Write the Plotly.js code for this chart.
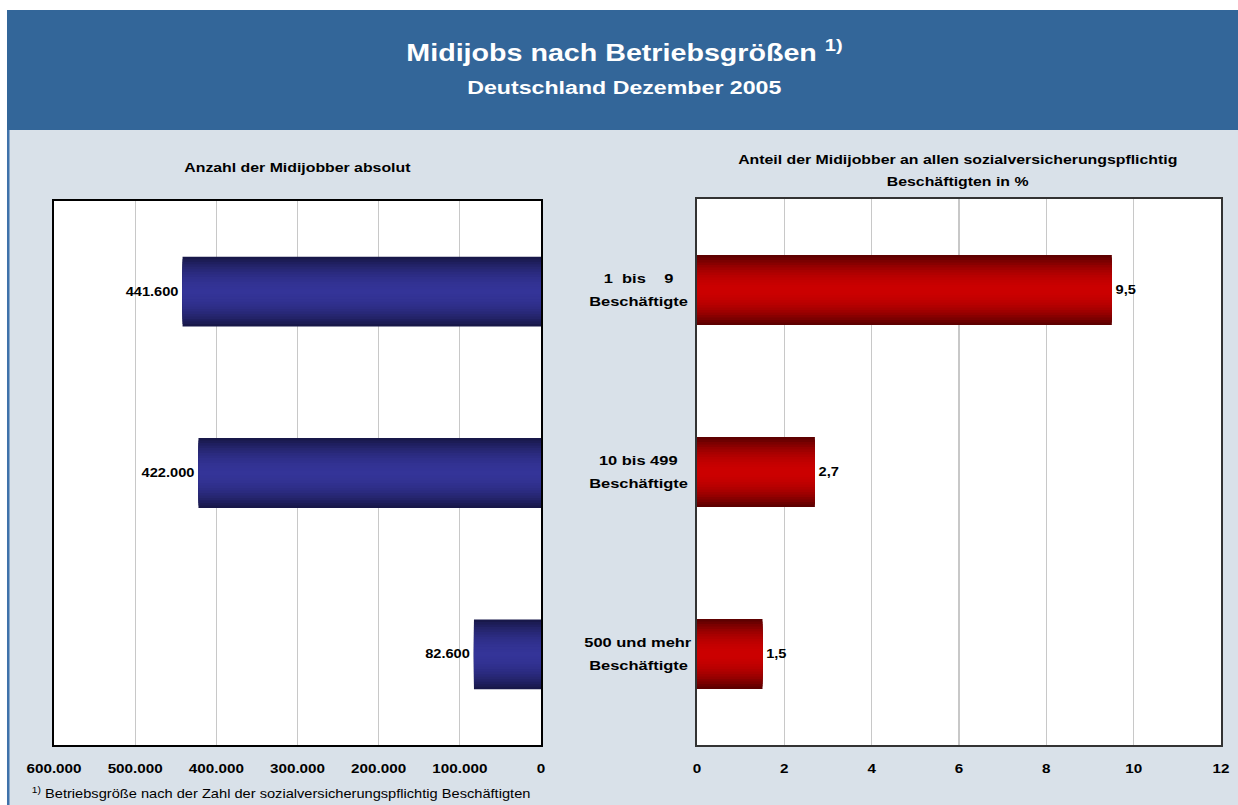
<!DOCTYPE html>
<html>
<head>
<meta charset="utf-8">
<script src="https://cdn.plot.ly/plotly-3.0.1.min.js"></script>
<style>
html,body{margin:0;padding:0;background:#fff;overflow:hidden;}
#chart{width:1015px;height:805px;transform-origin:0 0;}
</style>
</head>
<body>
<div id="chart"></div>
<script>
// ---- data ----
const categories = ["1  bis    9 Beschäftigte", "10 bis 499 Beschäftigte", "500 und mehr Beschäftigte"];
const categoryLine1 = ["1\u00a0\u00a0bis\u00a0\u00a0\u00a0\u00a09", "10 bis 499", "500 und mehr"];
const categoryLine2 = ["Beschäftigte", "Beschäftigte", "Beschäftigte"];
const absoluteValues = [441600, 422000, 82600];
const shareValues = [9.5, 2.7, 1.5];
const leftTickVals = [0, 100000, 200000, 300000, 400000, 500000, 600000];
const rightTickVals = [0, 2, 4, 6, 8, 10, 12];

// The reference picture is horizontally stretched; render narrower and stretch in X.
const W = 1238, H = 805, WP = 1015;
const STRETCH = W / WP;
document.getElementById('chart').style.transform = 'scaleX(' + STRETCH + ')';

const px = x => x / W;
const py = y => 1 - y / H;
const FONT = "Liberation Sans, Arial, sans-serif";

function mix(c1, c2, t) {
  const r = Math.round(c1[0] + (c2[0] - c1[0]) * t);
  const g = Math.round(c1[1] + (c2[1] - c1[1]) * t);
  const b = Math.round(c1[2] + (c2[2] - c1[2]) * t);
  return `rgb(${r},${g},${b})`;
}

const BAR_W = 0.385;
const LAYERS = 14;
const traces = [];
function addGradientBars(values, xa, ya, center, edge, tmpl) {
  for (let k = 0; k < LAYERS; k++) {
    const d = 1 - k / LAYERS;
    const first = k === 0;
    const t = {
      type: 'bar', orientation: 'h',
      x: values, y: categories,
      xaxis: xa, yaxis: ya,
      width: BAR_W * d,
      marker: {color: mix(center, edge, Math.pow(d, 2.0)), line: {width: 0}},
      textposition: first ? 'outside' : 'none',
      cliponaxis: false,
      hoverinfo: 'skip',
      showlegend: false
    };
    if (first) {
      t.texttemplate = tmpl;
      t.textfont = {family: FONT, size: 12, color: '#000', weight: 'bold'};
    }
    traces.push(t);
  }
}
addGradientBars(absoluteValues, 'x', 'y', [52, 52, 152], [24, 24, 74], '<b>%{x:,}</b>');
addGradientBars(shareValues, 'x2', 'y2', [204, 0, 0], [94, 0, 0], '<b>%{x:.1f}</b>');

const axisCommon = {
  showline: true, mirror: true, linewidth: 2,
  showgrid: true, gridcolor: '#c8c8c8', gridwidth: 1,
  zeroline: false, ticks: '', ticklabelstandoff: 11,
  tickfont: {family: FONT, size: 12.5, color: '#000', weight: 'bold'},
  fixedrange: true
};
const yCommon = {
  autorange: 'reversed', showticklabels: false, showgrid: false, zeroline: false,
  showline: true, mirror: true, linewidth: 2, ticks: '', fixedrange: true
};

const annotations = [
  {text: '<b>Midijobs nach Betriebsgrößen <sup>1)</sup></b>', x: px(624), y: py(51), xref: 'paper', yref: 'paper',
   xanchor: 'center', yanchor: 'middle', showarrow: false, font: {family: FONT, size: 23.5, color: '#fff'}},
  {text: '<b>Deutschland Dezember 2005</b>', x: px(625), y: py(88), xref: 'paper', yref: 'paper',
   xanchor: 'center', yanchor: 'middle', showarrow: false, font: {family: FONT, size: 19, color: '#fff'}},
  {text: '<b>Anzahl der Midijobber absolut</b>', x: px(297), y: py(167), xref: 'paper', yref: 'paper',
   xanchor: 'center', yanchor: 'middle', showarrow: false, font: {family: FONT, size: 13, color: '#000'}},
  {text: '<b>Anteil der Midijobber an allen sozialversicherungspflichtig</b>', x: px(958), y: py(160), xref: 'paper', yref: 'paper',
   xanchor: 'center', yanchor: 'middle', showarrow: false, font: {family: FONT, size: 13, color: '#000'}},
  {text: '<b>Beschäftigten in %</b>', x: px(958), y: py(181), xref: 'paper', yref: 'paper',
   xanchor: 'center', yanchor: 'middle', showarrow: false, font: {family: FONT, size: 13, color: '#000'}},
  {text: '<sup>1)</sup> Betriebsgröße nach der Zahl der sozialversicherungspflichtig Beschäftigten', x: px(29), y: py(793), xref: 'paper', yref: 'paper',
   xanchor: 'left', yanchor: 'middle', showarrow: false, font: {family: FONT, size: 12, color: '#000'}}
];
categories.forEach((c, i) => {
  annotations.push({text: '<b>' + categoryLine1[i] + '</b>', x: px(639), y: c, xref: 'paper', yref: 'y2',
    xanchor: 'center', yanchor: 'middle', yshift: 11.5, showarrow: false,
    font: {family: FONT, size: 13.5, color: '#000'}});
  annotations.push({text: '<b>' + categoryLine2[i] + '</b>', x: px(639), y: c, xref: 'paper', yref: 'y2',
    xanchor: 'center', yanchor: 'middle', yshift: -11.5, showarrow: false,
    font: {family: FONT, size: 13.5, color: '#000'}});
});

const layout = {
  width: WP, height: H,
  margin: {l: 0, r: 0, t: 0, b: 0, pad: 0},
  paper_bgcolor: '#d9e1e9', plot_bgcolor: '#ffffff',
  separators: ',.',
  barmode: 'overlay',
  showlegend: false,
  font: {family: FONT},
  xaxis: Object.assign({}, axisCommon, {domain: [px(54), px(541)], range: [600000, 0], tickvals: leftTickVals, tickformat: ',', linecolor: '#000', anchor: 'y'}),
  yaxis: Object.assign({}, yCommon, {domain: [py(745), py(201)], linecolor: '#000', anchor: 'x'}),
  xaxis2: Object.assign({}, axisCommon, {domain: [px(697), px(1221)], range: [0, 12], tickvals: rightTickVals, linecolor: '#333', anchor: 'y2'}),
  yaxis2: Object.assign({}, yCommon, {domain: [py(745), py(199)], linecolor: '#333', anchor: 'x2'}),
  shapes: [
    {type: 'rect', xref: 'paper', yref: 'paper', x0: 0, x1: px(7), y0: 0, y1: 1, fillcolor: '#ffffff', line: {width: 0}, layer: 'below'},
    {type: 'rect', xref: 'paper', yref: 'paper', x0: 0, x1: 1, y0: py(10), y1: 1, fillcolor: '#ffffff', line: {width: 0}, layer: 'below'},
    {type: 'rect', xref: 'paper', yref: 'paper', x0: px(7), x1: 1, y0: py(130), y1: py(10), fillcolor: '#336699', line: {width: 0}, layer: 'below'},
    {type: 'rect', xref: 'paper', yref: 'paper', x0: px(7), x1: px(9.5), y0: 0, y1: py(130), fillcolor: '#3f72aa', line: {width: 0}, layer: 'below'}
  ],
  annotations: annotations
};

Plotly.newPlot('chart', traces, layout, {displayModeBar: false, staticPlot: true});
</script>
</body>
</html>
